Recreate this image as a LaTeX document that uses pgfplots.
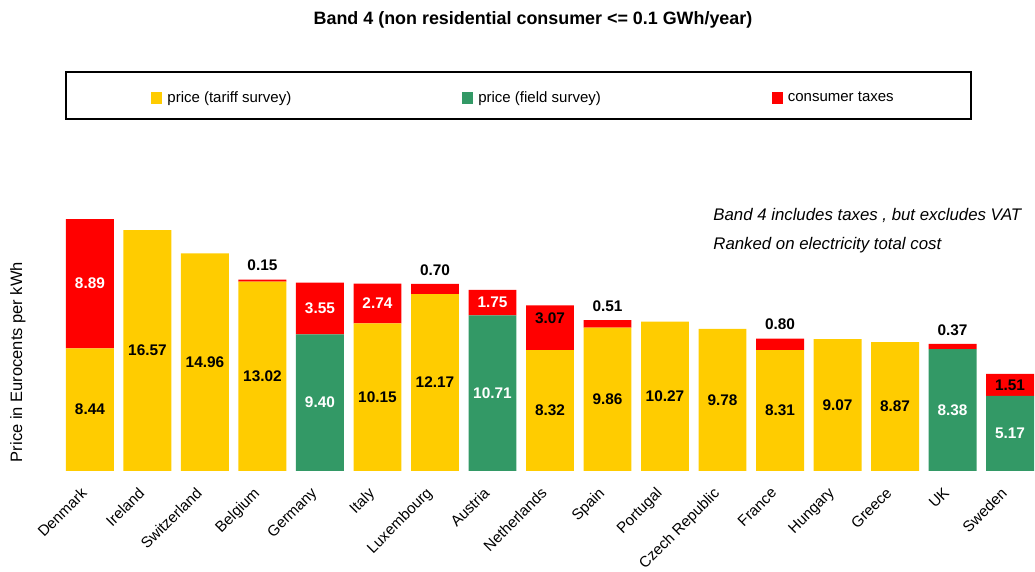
\documentclass[border=0pt]{standalone}
\usepackage{pgfplots}
\pgfplotsset{compat=1.18}
\usepackage{pgfplotstable}
\usepackage{fontspec}
\setmainfont{Liberation Sans}
\definecolor{cyel}{RGB}{255,204,0}
\definecolor{cgrn}{RGB}{51,153,102}
\definecolor{cred}{RGB}{255,0,0}

% x tariff field tax
\pgfplotstableread{
x tariff field tax
0 8.44 0 8.89
1 16.57 0 0
2 14.96 0 0
3 13.02 0 0.15
4 0 9.40 3.55
5 10.15 0 2.74
6 12.17 0 0.70
7 0 10.71 1.75
8 8.32 0 3.07
9 9.86 0 0.51
10 10.27 0 0
11 9.78 0 0
12 8.31 0 0.80
13 9.07 0 0
14 8.87 0 0
15 0 8.38 0.37
16 0 5.17 1.51
}\bars

% labels: price on yellow (black)
\pgfplotstableread{
x b v
0 0 8.44
1 0 16.57
2 0 14.96
3 0 13.02
5 0 10.15
6 0 12.17
8 0 8.32
9 0 9.86
10 0 10.27
11 0 9.78
12 0 8.31
13 0 9.07
14 0 8.87
}\lblyel
% price on green (white)
\pgfplotstableread{
x b v
4 0 9.40
7 0 10.71
15 0 8.38
16 0 5.17
}\lblgrn
% taxes inside, white
\pgfplotstableread{
x b v
0 8.44 8.89
4 9.40 3.55
5 10.15 2.74
7 10.71 1.75
}\lbltw
% taxes inside, black
\pgfplotstableread{
x b v
16 5.17 1.51
}\lbltb
\pgfplotstableread{
x b v
8 8.32 3.07
}\lbltnl
% taxes above, black
\pgfplotstableread{
x b v
3 13.02 0.15
6 12.17 0.70
9 9.86 0.51
12 8.31 0.80
15 8.38 0.37
}\lblta

\pgfplotsset{
  geom/.style={at={(32.9pt,50.5pt)}, anchor=south west, scale only axis,
    width=484.2pt, height=135.5pt, xmin=-0.42, xmax=16.42, ymin=0, ymax=18.64},
  lbl/.style={only marks, mark=none, point meta=explicit,
    nodes near coords={\pgfmathprintnumber[fixed,fixed zerofill,precision=2,assume math mode=true]{\pgfplotspointmeta}},
    every node near coord/.append style={anchor=center, inner sep=0pt,
      font=\bfseries\fontsize{7.7}{9}\selectfont}},
}

\begin{document}
\begin{tikzpicture}
\useasboundingbox (0,0) rectangle (517.5pt,286pt);
\node[font=\bfseries\fontsize{8.95}{10}\selectfont] at (266.5pt,276pt) {Band 4 (non residential consumer <= 0.1 GWh/year)};
\draw[line width=0.8pt] (33pt,226.5pt) rectangle (485.5pt,250pt);
\node[anchor=west, inner sep=0pt, font=\itshape\fontsize{8.4}{10}\selectfont] at (356.5pt,178.5pt) {Band 4 includes taxes , but excludes VAT};
\node[anchor=west, inner sep=0pt, font=\itshape\fontsize{8.4}{10}\selectfont] at (356.5pt,163.5pt) {Ranked on electricity total cost};

\begin{axis}[geom,
  ybar stacked, bar width=0.834,
  axis line style={draw=none}, tick style={draw=none}, major tick length=0pt,
  ytick=\empty,
  xtick={0,...,16},
  xticklabels={Denmark,Ireland,Switzerland,Belgium,Germany,Italy,Luxembourg,Austria,Netherlands,Spain,Portugal,Czech Republic,France,Hungary,Greece,UK,Sweden},
  x tick label style={font=\fontsize{7.6}{9}\selectfont, xshift=-5pt, yshift=-7.5pt, rotate=45, anchor=north east, inner sep=0pt},
  ylabel={Price in Eurocents per kWh},
  every axis y label/.style={at={(axis description cs:-0.0494,0.402)}, rotate=90, anchor=center, font=\fontsize{8.25}{10}\selectfont},
  legend columns=3,
  legend image code/.code={\fill[#1] (0pt,-3pt) rectangle (5.5pt,3pt);},
  legend style={draw=none, fill=none, inner sep=0pt, at={(0.088,1.375)}, anchor=west,
    font=\fontsize{7.5}{9}\selectfont,
    nodes={inner xsep=2.5pt, inner ysep=1pt},
    /tikz/every even column/.append style={column sep=83pt}},
]
\addplot[fill=cyel, draw=none] table[x=x, y=tariff] {\bars};
\addlegendentry{price (tariff survey)}
\addplot[fill=cgrn, draw=none] table[x=x, y=field] {\bars};
\addlegendentry{price (field survey)}
\addplot[fill=cred, draw=none] table[x=x, y=tax] {\bars};
\addlegendentry{consumer taxes}
\end{axis}

\begin{axis}[geom, hide axis]
\addplot[lbl, every node near coord/.append style={text=black}] table[x=x, y expr=\thisrow{b}+\thisrow{v}/2, meta=v] {\lblyel};
\addplot[lbl, every node near coord/.append style={text=white}] table[x=x, y expr=\thisrow{b}+\thisrow{v}/2, meta=v] {\lblgrn};
\addplot[lbl, every node near coord/.append style={text=white}] table[x=x, y expr=\thisrow{b}+\thisrow{v}/2, meta=v] {\lbltw};
\addplot[lbl, every node near coord/.append style={text=black}] table[x=x, y expr=\thisrow{b}+\thisrow{v}/2, meta=v] {\lbltb};
\addplot[lbl, every node near coord/.append style={text=black, yshift=-6.3pt}] table[x=x, y expr=\thisrow{b}+\thisrow{v}, meta=v] {\lbltnl};
\addplot[lbl, every node near coord/.append style={text=black, anchor=south, yshift=4pt}] table[x=x, y expr=\thisrow{b}+\thisrow{v}, meta=v] {\lblta};
\end{axis}
\end{tikzpicture}
\end{document}
